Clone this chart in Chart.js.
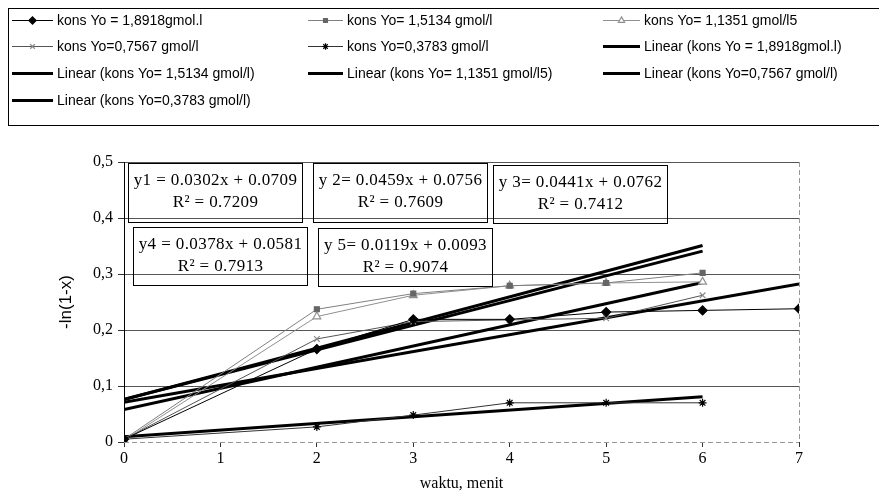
<!DOCTYPE html>
<html>
<head>
<meta charset="utf-8">
<script src="https://cdn.jsdelivr.net/npm/chart.js@4/dist/chart.umd.min.js"></script>
<style>
  html, body { margin: 0; padding: 0; background: #fff; }
  #wrap { width: 879px; height: 497px; position: relative; }
</style>
</head>
<body>
<div id="wrap"><canvas id="grafik" width="879" height="497"></canvas></div>
<script>
// Waktu (menit) untuk tiap seri
const waktu = [0, 2, 3, 4, 5, 6];
const waktuPanjang = [0, 2, 3, 4, 5, 6, 7];

// -ln(1-x)
const kons18918 = [0.005, 0.166, 0.219, 0.219, 0.232, 0.235, 0.238];
const kons15134 = [0.005, 0.237, 0.265, 0.279, 0.284, 0.302];
const kons11351 = [0.003, 0.224, 0.262, 0.279, 0.284, 0.286];
const kons07567 = [0.005, 0.184, 0.215, 0.218, 0.221, 0.262];
const kons03783 = [0.005, 0.027, 0.048, 0.070, 0.070, 0.070];

const labelSeri = [
    'kons Yo = 1,8918gmol.l',
    'kons Yo= 1,5134 gmol/l',
    'kons Yo= 1,1351 gmol/l5',
    'kons Yo=0,7567 gmol/l',
    'kons Yo=0,3783 gmol/l'
];

// Persamaan regresi linear (trendline)
const namaPersamaan = ['y1 = ', 'y 2= ', 'y 3= ', 'y4 = ', 'y 5= '];
const slope = [0.0302, 0.0459, 0.0441, 0.0378, 0.0119];
const intercept = [0.0709, 0.0756, 0.0762, 0.0581, 0.0093];
const rKuadrat = [0.7209, 0.7609, 0.7412, 0.7913, 0.9074];

const yTicks = [0, 0.1, 0.2, 0.3, 0.4, 0.5];
const xTicks = [0, 1, 2, 3, 4, 5, 6, 7];

// Posisi kotak persamaan (dalam satuan sumbu)
const posisiKotak = [
    { x0: 0.04, x1: 1.85, yAtas: 0.498, yBawah: 0.393 },
    { x0: 1.96, x1: 3.765, yAtas: 0.498, yBawah: 0.393 },
    { x0: 3.827, x1: 5.63, yAtas: 0.495, yBawah: 0.391 },
    { x0: 0.093, x1: 1.898, yAtas: 0.384, yBawah: 0.280 },
    { x0: 2.012, x1: 3.816, yAtas: 0.382, yBawah: 0.279 }
];

const SERIF = '"Liberation Serif", "Times New Roman", serif';
const SANS = '"Liberation Sans", Arial, sans-serif';

function titik(xs, ys) {
    return ys.map((v, i) => ({ x: xs[i], y: v }));
}

// Gaya tiap seri data
const gayaSeri = [
    { garis: '#000', isi: '#000', tepi: '#000', bentuk: 'rectRot', r: 4.5 },
    { garis: '#808080', isi: '#666', tepi: '#666', bentuk: 'rect', r: 3.5 },
    { garis: '#909090', isi: '#fff', tepi: '#909090', bentuk: 'triangle', r: 4.5 },
    { garis: '#555', isi: '#888', tepi: '#888', bentuk: 'crossRot', r: 4 },
    { garis: '#333', isi: '#000', tepi: '#000', bentuk: 'star', r: 4 }
];

const xSeri = [waktuPanjang, waktu, waktu, waktu, waktu];
const ySeri = [kons18918, kons15134, kons11351, kons07567, kons03783];

const datasetSeri = ySeri.map((ys, i) => ({
    label: labelSeri[i],
    data: titik(xSeri[i], ys),
    borderColor: gayaSeri[i].garis,
    borderWidth: 1,
    pointStyle: gayaSeri[i].bentuk,
    pointRadius: gayaSeri[i].r,
    pointBackgroundColor: gayaSeri[i].isi,
    pointBorderColor: gayaSeri[i].tepi,
    pointBorderWidth: 1.2,
    showLine: true,
    order: 0
}));

const datasetLinear = ySeri.map((ys, i) => {
    const xmax = xSeri[i][xSeri[i].length - 1];
    return {
        label: 'Linear (' + labelSeri[i] + ')',
        data: [
            { x: 0, y: intercept[i] },
            { x: xmax, y: intercept[i] + slope[i] * xmax }
        ],
        borderColor: '#000',
        borderWidth: 3,
        pointRadius: 0,
        showLine: true,
        order: 1
    };
});

// Urutan legenda seperti di Excel
const semuaDataset = datasetSeri.concat(datasetLinear);

const pluginBingkai = {
    id: 'bingkai',
    beforeDatasetsDraw(chart) {
        const { ctx, chartArea: a } = chart;
        ctx.save();
        ctx.strokeStyle = '#999';
        ctx.lineWidth = 1;
        ctx.setLineDash([5, 3]);
        ctx.beginPath();
        ctx.moveTo(a.left, Math.round(a.bottom) + 0.5);
        ctx.lineTo(a.right, Math.round(a.bottom) + 0.5);
        ctx.moveTo(Math.round(a.right) + 0.5, a.top);
        ctx.lineTo(Math.round(a.right) + 0.5, a.bottom);
        ctx.stroke();
        ctx.restore();
    }
};

const pluginKotakPersamaan = {
    id: 'kotakPersamaan',
    afterDatasetsDraw(chart) {
        const { ctx, scales: { x, y } } = chart;
        ctx.save();
        ctx.strokeStyle = '#000';
        ctx.lineWidth = 1;
        ctx.fillStyle = '#000';
        ctx.font = '17px ' + SERIF;
        ctx.letterSpacing = '0.4px';
        ctx.textAlign = 'center';
        ctx.textBaseline = 'middle';
        posisiKotak.forEach((k, i) => {
            const x0 = Math.round(x.getPixelForValue(k.x0)) + 0.5;
            const x1 = Math.round(x.getPixelForValue(k.x1)) + 0.5;
            const y0 = Math.round(y.getPixelForValue(k.yAtas)) + 0.5;
            const y1 = Math.round(y.getPixelForValue(k.yBawah)) + 0.5;
            ctx.strokeRect(x0, y0, x1 - x0, y1 - y0);
            const cx = (x0 + x1) / 2;
            ctx.fillText(namaPersamaan[i] + slope[i].toFixed(4) + 'x + ' + intercept[i].toFixed(4), cx, y0 + 17);
            ctx.fillText('R\u00B2 = ' + rKuadrat[i].toFixed(4), cx, y0 + 39);
        });
        ctx.restore();
    }
};

const pluginLegenda = {
    id: 'legendaExcel',
    afterDraw(chart) {
        const { ctx } = chart;
        const garisX = [12, 308, 603];
        const teksX = [57, 347, 644];
        const barisY = [20, 46, 73, 100];
        ctx.save();
        ctx.strokeStyle = '#000';
        ctx.lineWidth = 1;
        ctx.strokeRect(8.5, 8.5, 880, 117);
        ctx.font = '14px ' + SANS;
        ctx.textBaseline = 'middle';
        ctx.textAlign = 'left';
        chart.data.datasets.forEach((ds, i) => {
            const kol = i % 3;
            const lx = garisX[kol];
            const lx2 = teksX[kol] - 4;
            const ly = barisY[Math.floor(i / 3)];
            ctx.strokeStyle = ds.borderColor;
            ctx.lineWidth = ds.borderWidth;
            ctx.beginPath();
            ctx.moveTo(lx, ly + 0.5);
            ctx.lineTo(lx2, ly + 0.5);
            ctx.stroke();
            if (ds.pointRadius > 0) {
                ctx.fillStyle = ds.pointBackgroundColor;
                ctx.strokeStyle = ds.pointBorderColor;
                ctx.lineWidth = 1.2;
                Chart.helpers.drawPoint(ctx, {
                    pointStyle: ds.pointStyle,
                    radius: ds.pointRadius * 0.8,
                    rotation: 0,
                    borderWidth: 1.2
                }, (lx + lx2) / 2, ly + 0.5);
            }
            ctx.fillStyle = '#000';
            ctx.fillText(ds.label, teksX[kol], ly + 1);
        });
        ctx.restore();
    }
};

new Chart(document.getElementById('grafik'), {
    type: 'scatter',
    data: { datasets: semuaDataset },
    options: {
        responsive: false,
        animation: false,
        layout: { padding: { top: 162, left: 52, right: 80, bottom: 2 } },
        plugins: {
            legend: { display: false },
            tooltip: { enabled: false }
        },
        scales: {
            x: {
                type: 'linear',
                min: 0,
                max: 7,
                afterBuildTicks: (scale) => { scale.ticks = xTicks.map(v => ({ value: v })); },
                afterFit: (scale) => { scale.height = 53; },
                ticks: {
                    color: '#000',
                    font: { family: SERIF, size: 16 },
                    padding: 2,
                    maxRotation: 0,
                    callback: (v) => String(v)
                },
                grid: {
                    drawOnChartArea: false,
                    drawTicks: true,
                    tickLength: 5,
                    tickColor: '#333'
                },
                border: { display: false },
                title: {
                    display: true,
                    text: 'waktu, menit',
                    color: '#000',
                    font: { family: SERIF, size: 16 },
                    padding: { top: 0, bottom: 2 }
                }
            },
            y: {
                type: 'linear',
                min: 0,
                max: 0.5,
                afterBuildTicks: (scale) => { scale.ticks = yTicks.map(v => ({ value: v })); },
                afterFit: (scale) => { scale.width = 72; },
                ticks: {
                    color: '#000',
                    font: { family: SERIF, size: 16 },
                    padding: 5,
                    callback: (v) => v === 0 ? '0' : v.toFixed(1).replace('.', ',')
                },
                grid: {
                    color: (c) => (c.tick && c.tick.value === 0) ? 'rgba(0,0,0,0)' : '#555',
                    lineWidth: 1,
                    tickLength: 6,
                    tickColor: '#333'
                },
                border: { display: true, color: '#000', width: 1 },
                title: {
                    display: true,
                    text: '-ln(1-x)',
                    color: '#000',
                    font: { family: SANS, size: 17 },
                    padding: { top: 4, bottom: 4 }
                }
            }
        }
    },
    plugins: [pluginBingkai, pluginKotakPersamaan, pluginLegenda]
});
</script>
</body>
</html>
